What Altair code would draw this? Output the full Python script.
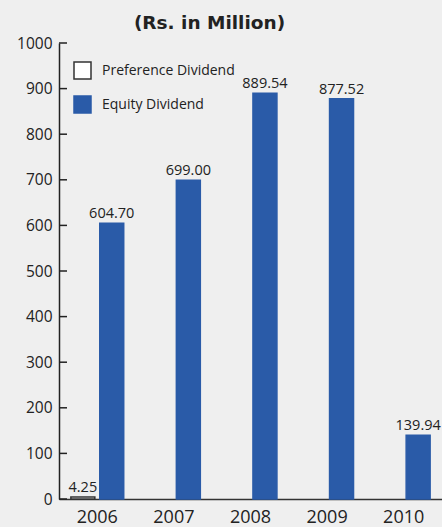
import altair as alt
import pandas as pd

years = ["2006", "2007", "2008", "2009", "2010"]
series = ["Preference Dividend", "Equity Dividend"]
preference = [4.25, None, None, None, None]
equity = [604.70, 699.00, 889.54, 877.52, 139.94]
y_ticks = [0, 100, 200, 300, 400, 500, 600, 700, 800, 900, 1000]

rows = []
for yr, p, e in zip(years, preference, equity):
    if p is not None:
        rows.append({"year": yr, "series": series[0], "value": p})
    if e is not None:
        rows.append({"year": yr, "series": series[1], "value": e})
df = pd.DataFrame(rows)
ticks_df = pd.DataFrame({"value": y_ticks})

FONT = "Open Sans"
BLUE = "#2a5ba8"

yscale = alt.Scale(domain=[0, 1000], nice=False)
yaxis = alt.Axis(values=y_ticks, format="d", ticks=False, labelFontSize=15.5,
                 labelFont=FONT, labelColor="#222", labelPadding=7, domainColor="#222",
                 domainWidth=1.5, grid=False)

tick_marks = alt.Chart(ticks_df).mark_rule(color="#222", strokeWidth=1.5).encode(
    y=alt.Y("value:Q", scale=yscale, axis=yaxis, title=None),
    x=alt.value(0),
    x2=alt.value(8),
)

base = alt.Chart(df).encode(
    x=alt.X("year:N", sort=years, title=None,
            scale=alt.Scale(paddingInner=0.31, paddingOuter=0.155),
            axis=alt.Axis(labelAngle=0, ticks=False, labelFontSize=18, labelFont=FONT,
                          labelColor="#222", labelPadding=9, domainColor="#333",
                          domainWidth=1.5, grid=False)),
    xOffset=alt.XOffset("series:N", sort=series,
                        scale=alt.Scale(paddingInner=0.17, paddingOuter=0)),
    y=alt.Y("value:Q", scale=yscale, title=None, axis=yaxis),
)

bars = base.mark_bar(strokeWidth=1.5).encode(
    fill=alt.Fill("series:N", sort=series,
                  scale=alt.Scale(domain=series, range=["#ffffff", BLUE]),
                  legend=alt.Legend(title=None, orient="none", legendX=14, legendY=18,
                                    symbolType="square", symbolSize=289,
                                    symbolStrokeWidth=1.5, labelFont=FONT,
                                    labelFontSize=14, labelColor="#222",
                                    labelOffset=10, rowPadding=11)),
    stroke=alt.Stroke("series:N", sort=series,
                      scale=alt.Scale(domain=series, range=["#333333", BLUE])),
)

labels = base.mark_text(baseline="alphabetic", dy=-5, fontSize=14.5, font=FONT,
                        color="#222").encode(
    text=alt.Text("value:Q", format=".2f")
)

chart = alt.layer(bars, labels, tick_marks).properties(
    width=383,
    height=456,
    autosize=alt.AutoSizeParams(type="none"),
    padding={"left": 59, "top": 43, "right": 0, "bottom": 28},
    background="#efefef",
    title=alt.TitleParams("(Rs. in Million)", font="DejaVu Sans", fontWeight="bold",
                          fontSize=18.5, color="#222", anchor="middle", dx=-41,
                          offset=4),
).configure_view(stroke=None)

chart.save("out.html", embed_options={"renderer": "svg", "actions": False})
